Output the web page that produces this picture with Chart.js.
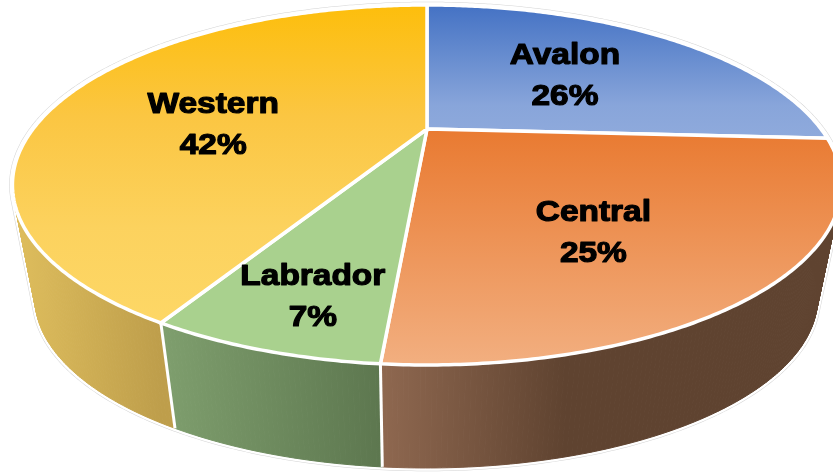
<!DOCTYPE html>
<html>
<head>
<meta charset="utf-8">
<style>
    html, body { margin: 0; padding: 0; background: #fff; overflow: hidden; }
    canvas { display: block; }
</style>
<script src="https://cdn.jsdelivr.net/npm/chart.js@4/dist/chart.umd.min.js"></script>
</head>
<body>
<canvas id="chart" width="833" height="472"></canvas>
<script>
// data
const categories = ['Avalon', 'Central', 'Labrador', 'Western'];
const shares = [25.9, 25.4, 6.9, 41.8];

// colours: top face gradient stops (far edge -> near edge), wall (left -> right)
const topStops = [
    [[0, '#4472c4'], [0.75, '#88a5da'], [1, '#8faadc']],
    [[0, '#e97a31'], [1, '#f2af80']],
    [[0, '#a9d18e'], [1, '#a9d18e']],
    [[0, '#fdbe0c'], [0.35, '#fbc642'], [0.7, '#fcd25e'], [1, '#fdd766']]
];
const wallFrom = ['#4472c4', '#8f6850', '#7f9f6e', '#dfbe5d'];
const wallTo = ['#4472c4', '#5f4330', '#5d774f', '#be9e4b'];

// label nudge from the slice's mid point, px
const labelNudge = [[-3, 2], [3, 27], [-38, 66], [-13, 18]];

// perspective view of the disc
const view = { cx: 427, cy: 129, a: 394, b: 162.6, k: 0.311 };
// the bottom disc is the top disc scaled toward a far vanishing point
const base = { vx: 414, vy: 2204, s: 0.944 };

function topPoint(angle, r = 1) {
    let u = r * Math.cos(angle);
    let v = -r * Math.sin(angle);
    let w = 1 + view.k * v;
    return [view.cx + view.a * u / w, view.cy - view.b * v / w];
}

function basePoint(angle) {
    let p = topPoint(angle);
    return [base.vx + base.s * (p[0] - base.vx), base.vy + base.s * (p[1] - base.vy)];
}

function arcAngles(start, end) {
    let out = [];
    let steps = Math.max(2, Math.ceil((end - start) / 0.01));
    for (let i = 0; i <= steps; i++) {
        out.push(start + (end - start) * i / steps);
    }
    return out;
}

function trace(ctx, points) {
    points.forEach((p, i) => i ? ctx.lineTo(p[0], p[1]) : ctx.moveTo(p[0], p[1]));
}

const pie3d = {
    id: 'pie3d',
    beforeDatasetsDraw(chart) {
        let ctx = chart.ctx;
        let arcs = chart.getDatasetMeta(0).data;

        // outer halo: white band with a faint grey edge
        let all = arcAngles(0, Math.PI * 2);
        ctx.lineJoin = 'round';
        [['#d4d4d4', 6.5], ['#ffffff', 5.5]].forEach(([color, lineWidth]) => {
            ctx.beginPath();
            trace(ctx, all.map(a => topPoint(a)));
            ctx.moveTo(...basePoint(all[0]));
            all.forEach(a => ctx.lineTo(...basePoint(a)));
            all.forEach((a, i) => {
                if (i % 4 == 0) {
                    ctx.moveTo(...topPoint(a));
                    ctx.lineTo(...basePoint(a));
                }
            });
            ctx.strokeStyle = color;
            ctx.lineWidth = lineWidth;
            ctx.stroke();
        });

        // walls, one small quad at a time so the side tangents stay filled
        arcs.forEach((arc, i) => {
            let angles = arcAngles(arc.startAngle, arc.endAngle);
            let front = angles.filter(a => -Math.sin(a) < -view.k);
            let xs = (front.length ? front : angles).map(a => topPoint(a)[0]);
            let grad = ctx.createLinearGradient(Math.min(...xs), 0, Math.max(...xs), 0);
            grad.addColorStop(0, wallFrom[i]);
            grad.addColorStop(i == 1 ? 0.4 : 1, wallTo[i]);
            grad.addColorStop(1, wallTo[i]);
            ctx.fillStyle = grad;
            ctx.strokeStyle = grad;
            ctx.lineWidth = 1;
            for (let j = 0; j < angles.length - 1; j++) {
                ctx.beginPath();
                trace(ctx, [
                    topPoint(angles[j]), topPoint(angles[j + 1]),
                    basePoint(angles[j + 1]), basePoint(angles[j])
                ]);
                ctx.closePath();
                ctx.fill();
                ctx.stroke();
            }
        });

        // white seams between the walls
        ctx.strokeStyle = '#fff';
        ctx.lineWidth = 3;
        arcs.forEach(arc => {
            ctx.beginPath();
            ctx.moveTo(...topPoint(arc.startAngle));
            ctx.lineTo(...basePoint(arc.startAngle));
            ctx.stroke();
        });

        // top face
        arcs.forEach((arc, i) => {
            let rim = arcAngles(arc.startAngle, arc.endAngle).map(a => topPoint(a));
            let ys = rim.map(p => p[1]).concat(view.cy);
            let grad = ctx.createLinearGradient(0, Math.min(...ys), 0, Math.max(...ys));
            topStops[i].forEach(([pos, color]) => grad.addColorStop(pos, color));
            ctx.beginPath();
            ctx.moveTo(view.cx, view.cy);
            rim.forEach(p => ctx.lineTo(p[0], p[1]));
            ctx.closePath();
            ctx.fillStyle = grad;
            ctx.fill();
            ctx.strokeStyle = '#fff';
            ctx.lineWidth = 3.5;
            ctx.stroke();
        });

        // labels
        let total = shares.reduce((sum, x) => sum + x, 0);
        arcs.forEach((arc, i) => {
            let mid = topPoint((arc.startAngle + arc.endAngle) / 2, 0.55);
            let x = mid[0] + labelNudge[i][0];
            let y = mid[1] + labelNudge[i][1];
            let lines = [categories[i], Math.round(shares[i] / total * 100) + '%'];
            ctx.save();
            ctx.font = 'bold 30px "Liberation Sans"';
            ctx.textAlign = 'center';
            ctx.textBaseline = 'middle';
            ctx.fillStyle = '#000';
            ctx.strokeStyle = '#000';
            ctx.lineWidth = 1.2;
            lines.forEach((line, j) => {
                ctx.save();
                ctx.translate(x, y + (j - 0.5) * 41);
                ctx.scale(1.115, 1);
                ctx.fillText(line, 0, 0);
                ctx.strokeText(line, 0, 0);
                ctx.restore();
            });
            ctx.restore();
        });
        return false;
    }
};

new Chart(document.getElementById('chart').getContext('2d'), {
    type: 'pie',
    data: {
        labels: categories,
        datasets: [{ data: shares, borderWidth: 0 }]
    },
    options: {
        responsive: false,
        animation: false,
        plugins: {
            legend: { display: false },
            tooltip: { enabled: false }
        }
    },
    plugins: [pie3d]
});
</script>
</body>
</html>
